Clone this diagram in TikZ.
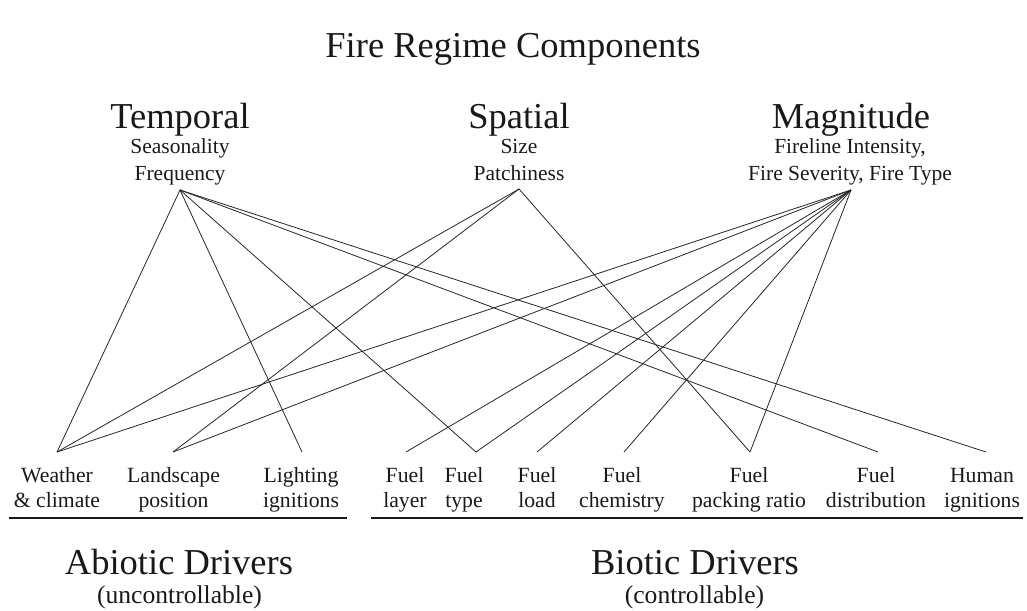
\documentclass[tikz,border=0pt]{standalone}
\usepackage{fontspec}
\setmainfont{Liberation Serif}
\begin{document}
\begin{tikzpicture}[x=1pt,y=-1pt,
  every node/.style={inner sep=0pt, outer sep=0pt, text=black!90},
  head/.style={font=\fontsize{36.5}{40}\selectfont, anchor=base},
  sub/.style={font=\fontsize{21.5}{26.5}\selectfont, anchor=base, align=center},
  lab/.style={font=\fontsize{21.7}{25}\selectfont, anchor=base, align=center},
  paren/.style={font=\fontsize{25.6}{28}\selectfont, anchor=base},
  link/.style={line width=0.8pt, black!85},
  rulebar/.style={line width=2pt, black!90}]
\useasboundingbox (0,0) rectangle (1027,610);
% title and components
\node[head] (title) at (513,57) {Fire Regime Components};
\node[head] (temporal) at (180,128) {Temporal};
\node[head] (spatial) at (519,128) {Spatial};
\node[head] (magnitude) at (851,128) {Magnitude};
\node[sub] (tsub) at (180,180) {Seasonality\\Frequency};
\node[sub] (ssub) at (519,180) {Size\\Patchiness};
\node[sub] (msub) at (850,180) {Fireline Intensity,\\Fire Severity, Fire Type};
% drivers
\node[lab] (weather) at (57,507) {Weather\\\& climate};
\node[lab] (landscape) at (173.5,507) {Landscape\\position};
\node[lab] (lighting) at (301,507) {Lighting\\ignitions};
\node[lab] (flayer) at (405,507) {Fuel\\layer};
\node[lab] (ftype) at (464,507) {Fuel\\type};
\node[lab] (fload) at (537,507) {Fuel\\load};
\node[lab] (fchem) at (622,507) {Fuel\\chemistry};
\node[lab] (fpack) at (749,507) {Fuel\\packing ratio};
\node[lab] (fdist) at (876,507) {Fuel\\distribution};
\node[lab] (human) at (982,507) {Human\\ignitions};
% group titles
\node[head] (abiotic) at (179,574) {Abiotic Drivers};
\node[paren] (unc) at (179.5,603) {(uncontrollable)};
\node[head] (biotic) at (695,574) {Biotic Drivers};
\node[paren] (con) at (694.5,603) {(controllable)};
% rules
\coordinate (ra1) at (9,518); \coordinate (ra2) at (347,518);
\coordinate (rb1) at (371,518); \coordinate (rb2) at (1023,518);
\draw[rulebar] (ra1) -- (ra2);
\draw[rulebar] (rb1) -- (rb2);
% connection points
\coordinate (pT) at (180,190);
\coordinate (pS) at (519,189);
\coordinate (pM) at (851,190);
\coordinate (bW) at (57,452);
\coordinate (bL) at (173,452);
\coordinate (bLi) at (302,452);
\coordinate (bFl) at (406,452);
\coordinate (bFt) at (476,452);
\coordinate (bFlo) at (537,452);
\coordinate (bFc) at (624,452);
\coordinate (bFp) at (750,452);
\coordinate (bFd) at (878,452);
\coordinate (bH) at (986,452);
% temporal links
\draw[link] (bW) -- (pT) -- (bLi);
\draw[link] (pT) -- (bFt);
\draw[link] (pT) -- (bFd);
\draw[link] (pT) -- (bH);
% spatial links
\draw[link] (bW) -- (pS) -- (bFp);
\draw[link] (pS) -- (bL);
% magnitude links
\draw[link] (bW) -- (pM);
\draw[link] (bL) -- (pM);
\draw[link] (bFl) -- (pM);
\draw[link] (bFt) -- (pM);
\draw[link] (bFlo) -- (pM);
\draw[link] (bFc) -- (pM);
\draw[link] (bFp) -- (pM);
\end{tikzpicture}
\end{document}
